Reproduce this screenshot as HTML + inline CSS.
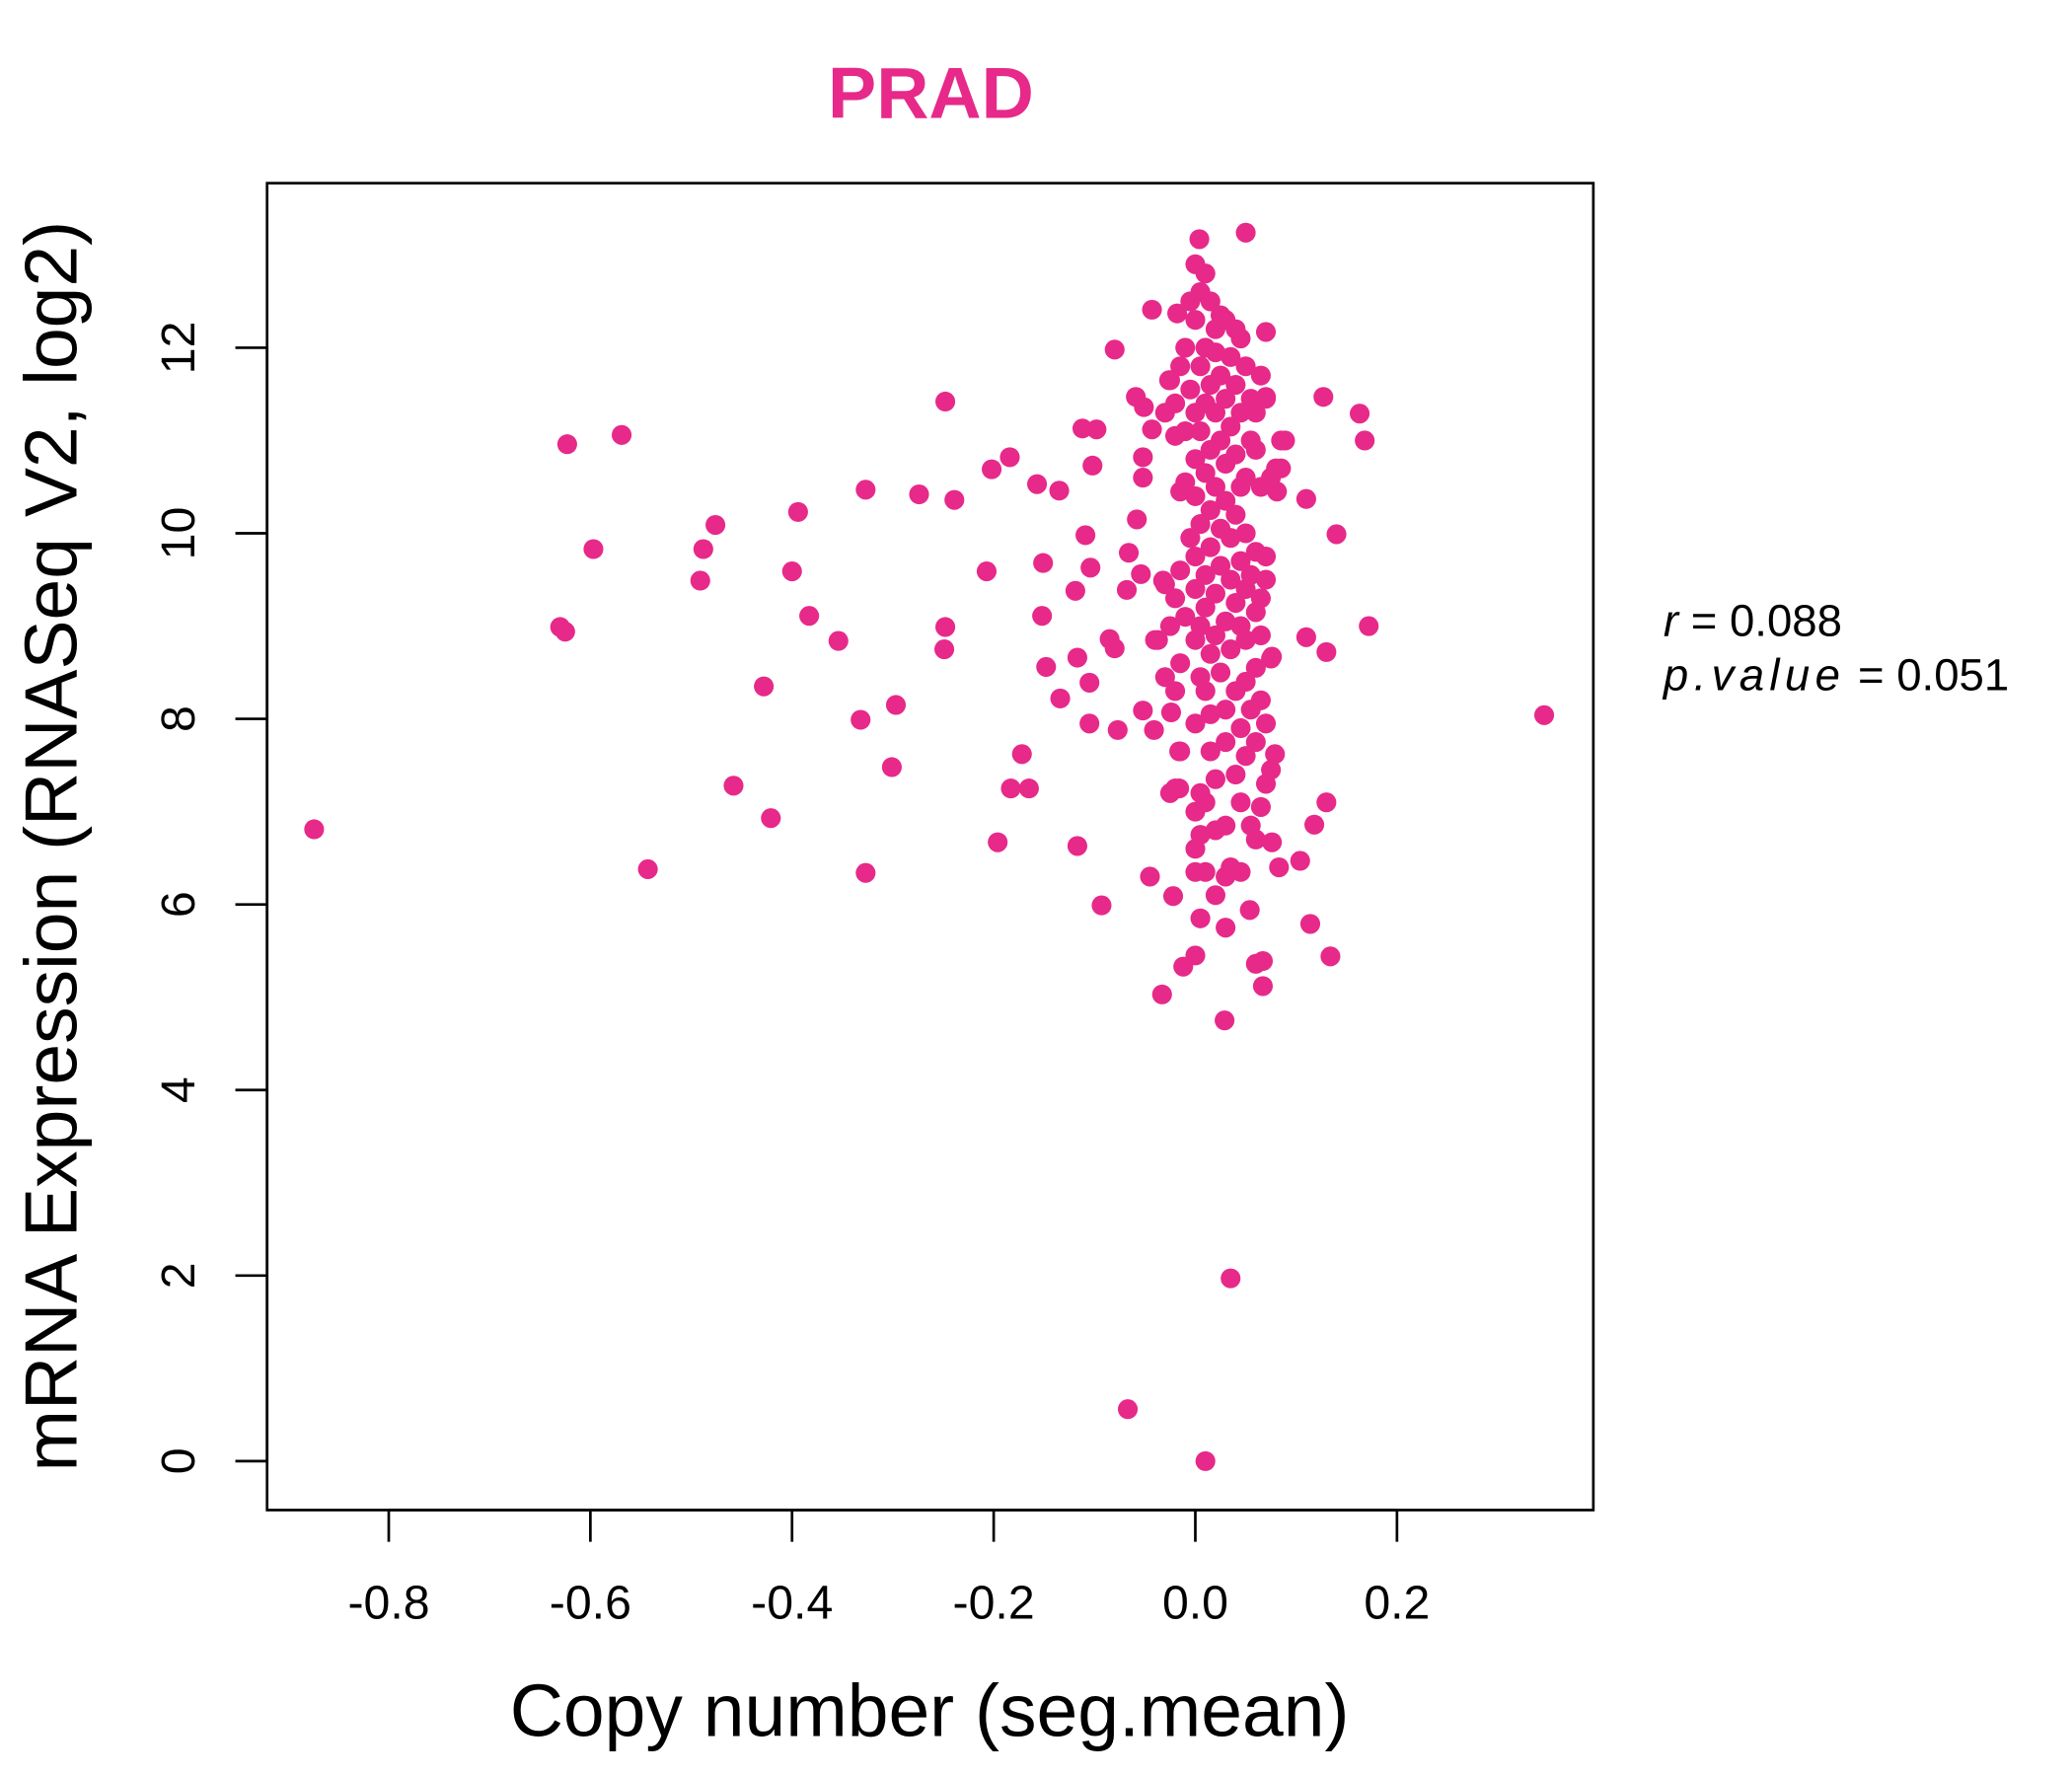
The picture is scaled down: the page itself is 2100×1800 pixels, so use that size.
<!DOCTYPE html>
<html><head><meta charset="utf-8"><style>
html,body{margin:0;padding:0;background:#fff;}
svg{display:block;font-family:"Liberation Sans",sans-serif;}
</style></head><body>
<svg id="chart" width="2100" height="1800" viewBox="0 0 1567 1343.1" xmlns="http://www.w3.org/2000/svg">
<rect x="0" y="0" width="1567" height="1343.1" fill="#fff"/>
<text x="704" y="89" text-anchor="middle" font-size="55" font-weight="bold" fill="#E7298A">PRAD</text>
<rect x="202" y="138.5" width="1003" height="1003.5" fill="none" stroke="#000" stroke-width="2"/>
<g id="xaxis"></g>
<g id="yaxis"></g>
<g id="points"></g>
<text x="703" y="1313" text-anchor="middle" font-size="56">Copy number (seg.mean)</text>
<text transform="translate(58,640) rotate(-90)" text-anchor="middle" font-size="56">mRNA Expression (RNASeq V2, log2)</text>
<text x="1258" y="481" font-size="34"><tspan font-style="italic">r</tspan> = 0.088</text>
<text x="1258" y="522" font-size="34"><tspan font-style="italic" letter-spacing="4">p.value</tspan> = 0.051</text>
</svg>
<script>
const xTicks=[-0.8,-0.6,-0.4,-0.2,0.0,0.2];
const xTickLabels=["-0.8","-0.6","-0.4","-0.2","0.0","0.2"];
const yTicks=[0,2,4,6,8,10,12];
const yTickLabels=["0","2","4","6","8","10","12"];
const xValues=[-0.874,-0.623,-0.569,-0.597,-0.630,-0.625,-0.543,-0.491,-0.488,-0.476,-0.458,-0.428,-0.421,-0.400,-0.394,-0.383,-0.354,-0.332,-0.327,-0.327,-0.301,-0.297,-0.274,-0.249,-0.248,-0.248,-0.239,-0.207,-0.202,-0.196,-0.184,-0.183,-0.172,-0.165,-0.157,-0.152,-0.151,-0.148,-0.135,-0.134,-0.119,-0.117,-0.117,-0.112,-0.109,-0.105,-0.104,-0.102,-0.105,-0.098,-0.093,-0.085,-0.080,-0.080,-0.077,-0.067,-0.068,-0.066,-0.059,-0.058,-0.054,-0.052,-0.052,-0.052,-0.051,-0.045,-0.043,-0.043,-0.041,-0.037,-0.033,-0.032,-0.026,-0.024,-0.022,-0.025,-0.018,-0.016,-0.016,-0.012,0.010,0.035,0.029,0.050,0.004,
0.346,0.172,0.168,0.163,0.140,0.127,0.130,0.130,0.118,0.110,0.110,0.114,0.134,0.104,0.085,0.089,0.085,0.081,0.079,0.076,0.076,0.083,0.070,0.070,0.067,0.067,0.060,0.054,
0.000,0.010,0.005,0.015,-0.005,0.025,0.030,0.020,0.040,0.045,0.000,-0.010,0.010,0.020,0.035,0.050,0.065,0.005,-0.015,0.025,0.040,0.015,-0.025,-0.005,0.030,0.055,0.070,0.010,-0.020,0.000,0.020,0.045,0.060,-0.030,0.035,0.005,-0.010,0.025,0.055,0.015,-0.020,0.040,0.000,0.030,0.060,0.010,0.050,-0.010,0.020,0.080,0.075,0.045,0.065,0.000,0.030,-0.015,0.015,0.040,0.005,0.025,-0.005,0.050,0.035,0.015,0.060,0.070,0.000,0.045,0.025,-0.015,0.010,0.055,0.070,0.035,-0.030,0.000,0.050,0.020,0.065,-0.020,0.040,0.010,0.060,-0.010,0.030,0.045,0.005,-0.025,0.020,0.065,0.050,0.000,-0.040,0.035,0.015,0.075,-0.015,0.060,0.025,0.005,-0.030,0.050,0.040,0.010,-0.020,0.065,0.030,0.055,0.015,0.000,0.045,0.070,0.030,0.060,0.015,-0.015,0.050,0.075,0.040,0.020,0.070,0.005,0.045,-0.020,0.010,0.065,0.000,0.030,0.055,0.005,0.060,0.020,0.000,0.035,0.010,0.045,0.000,0.030,0.020,0.005,0.030,0.000];
const yValues=[6.81,10.96,11.06,9.83,8.99,8.94,6.38,9.49,9.83,10.09,7.28,8.35,6.93,9.59,10.23,9.11,8.84,7.99,10.47,6.34,7.48,8.15,10.42,8.75,8.99,11.42,10.36,9.59,10.69,6.67,10.82,7.25,7.62,7.25,10.53,9.11,9.68,8.56,10.46,8.22,9.38,8.66,6.63,11.13,9.98,8.39,9.63,10.73,7.95,11.12,5.99,8.86,8.76,11.98,7.88,0.56,9.39,9.79,11.47,10.15,9.56,10.82,10.60,8.09,11.36,6.30,12.41,11.12,7.88,8.85,5.03,9.49,11.65,8.07,6.09,7.20,12.37,7.65,7.25,5.33,0.00,1.97,4.75,13.24,13.17,
8.04,9.00,11.00,11.29,9.99,11.47,8.72,7.10,6.86,10.37,8.88,5.79,5.44,6.47,11.00,11.00,10.70,10.45,7.62,8.67,6.67,6.40,12.17,11.47,5.39,5.12,5.36,5.94,
12.9,12.8,12.6,12.5,12.5,12.35,12.3,12.2,12.2,12.1,12.3,12.0,12.0,11.95,11.9,11.8,11.7,11.8,11.8,11.7,11.6,11.6,11.65,11.55,11.45,11.45,11.45,11.4,11.4,11.3,11.3,11.3,11.3,11.3,11.15,11.1,11.1,11.0,11.0,10.9,11.05,10.85,10.8,10.75,10.9,10.65,10.6,10.55,10.5,10.7,10.6,10.5,10.5,10.4,10.35,10.45,10.25,10.2,10.1,10.05,9.95,10.0,9.95,9.85,9.8,9.75,9.75,9.7,9.65,9.6,9.55,9.55,9.5,9.5,9.45,9.4,9.4,9.35,9.3,9.3,9.25,9.2,9.15,9.1,9.05,9.0,9.0,9.0,8.9,8.9,8.85,8.85,8.85,8.75,8.7,8.65,8.6,8.55,8.5,8.45,8.45,8.4,8.3,8.3,8.3,8.2,8.1,8.1,8.05,7.95,7.9,7.95,7.75,7.75,7.65,7.65,7.6,7.45,7.4,7.35,7.3,7.2,7.1,7.25,7.1,7.05,7.0,6.85,6.85,6.75,6.7,6.8,6.6,6.4,6.35,6.35,6.35,6.3,6.1,5.85,5.75,5.45];
const NS="http://www.w3.org/2000/svg";
const X0=904, XS=762.5, Y0=1105, YS=70.17;
function sx(v){return X0+v*XS;}
function sy(v){return Y0-v*YS;}
const xa=document.getElementById('xaxis');
const l1=document.createElementNS(NS,'line');


l1.setAttribute('x1',sx(xTicks[0]));l1.setAttribute('x2',sx(xTicks[xTicks.length-1]));
l1.setAttribute('y1',1142);l1.setAttribute('y2',1142);l1.setAttribute('stroke','#000');l1.setAttribute('stroke-width',2);
xa.appendChild(l1);
xTicks.forEach((t,i)=>{
 const l=document.createElementNS(NS,'line');
 
 
 l.setAttribute('x1',sx(t));l.setAttribute('x2',sx(t));l.setAttribute('y1',1142);l.setAttribute('y2',1166);
 l.setAttribute('stroke','#000');l.setAttribute('stroke-width',2);xa.appendChild(l);
 const tx=document.createElementNS(NS,'text');
 
 
 tx.setAttribute('x',sx(t));tx.setAttribute('y',1224);tx.setAttribute('text-anchor','middle');tx.setAttribute('font-size','36');
 tx.textContent=xTickLabels[i];xa.appendChild(tx);
});
const ya=document.getElementById('yaxis');
const l2=document.createElementNS(NS,'line');


l2.setAttribute('x1',202);l2.setAttribute('x2',202);
l2.setAttribute('y1',sy(yTicks[0]));l2.setAttribute('y2',sy(yTicks[yTicks.length-1]));l2.setAttribute('stroke','#000');l2.setAttribute('stroke-width',2);
ya.appendChild(l2);
yTicks.forEach((t,i)=>{
 const l=document.createElementNS(NS,'line');
 
 
 l.setAttribute('x1',178);l.setAttribute('x2',202);l.setAttribute('y1',sy(t));l.setAttribute('y2',sy(t));
 l.setAttribute('stroke','#000');l.setAttribute('stroke-width',2);ya.appendChild(l);
 const tx=document.createElementNS(NS,'text');
 
 
 tx.setAttribute('transform','translate(147,'+sy(t)+') rotate(-90)');tx.setAttribute('text-anchor','middle');tx.setAttribute('font-size','36');
 tx.textContent=yTickLabels[i];ya.appendChild(tx);
});
const pg=document.getElementById('points');
for(let i=0;i<xValues.length;i++){
 const c=document.createElementNS(NS,'circle');
 
 
 c.setAttribute('cx',sx(xValues[i]));c.setAttribute('cy',sy(yValues[i]));c.setAttribute('r',7.5);c.setAttribute('fill','#E7298A');
 pg.appendChild(c);
}
</script>
</body></html>
